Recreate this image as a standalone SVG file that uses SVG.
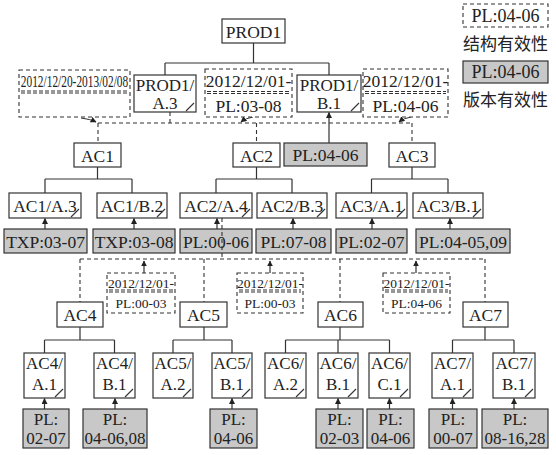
<svg xmlns="http://www.w3.org/2000/svg" width="556" height="455" viewBox="0 0 556 455" font-family="'Liberation Serif','Times New Roman',serif">
<defs>
<style>
.box{fill:#fff;stroke:#333;stroke-width:1.2}
.g{fill:#c8c8c8;stroke:#333;stroke-width:1.2}
.d{fill:#fff;stroke:#333;stroke-width:1.1;stroke-dasharray:4 3}
.dl{fill:none;stroke:#333;stroke-width:1.1;stroke-dasharray:4 3}
.ln{fill:none;stroke:#333;stroke-width:1.2}
.ar{fill:none;stroke:#333;stroke-width:1.2;marker-end:url(#ah)}
.ca{fill:none;stroke:#333;stroke-width:1;marker-end:url(#ah)}
.dv{fill:none;stroke:#333;stroke-width:1.1;stroke-dasharray:4 2}
.cm{fill:none;stroke:#333;stroke-width:1.1}
text{font-family:"Liberation Serif","Times New Roman",serif;font-size:17.5px;fill:#222;text-anchor:middle;dominant-baseline:central}
.t2{font-size:17px}
.s{font-size:13.5px}
.lg{font-size:18px}
.cn{font-family:"Noto Sans CJK SC",sans-serif;font-size:17px}
</style>
<marker id="ah" viewBox="0 0 10 10" refX="9" refY="5" markerWidth="6" markerHeight="6" markerUnits="userSpaceOnUse" orient="auto"><path d="M0,0 L10,5 L0,10 z" fill="#222"/></marker>
</defs>
<rect width="556" height="455" fill="#fff"/>

<g id="connectors">
<path class="ln" d="M253.5 43V63M165 63H329M165 63V75M329 63V75"/>
<path class="dl" d="M170 112V123M98 123H412M98 123V143M256.5 123V143M412 123V143"/>
<path class="ca" d="M81 118Q90 119 96 122"/>
<path class="ca" d="M253 117Q246 118 241 122"/>
<path class="ca" d="M411 117Q404 118 399 122"/>
<path class="ar" d="M329 143V112.5"/>
<path class="ln" d="M97.5 167V179M45 179H132M45 179V193M132 179V193"/>
<path class="ln" d="M256.5 167V179M216 179H292M216 179V193M292 179V193"/>
<path class="ln" d="M412 167V179M371.5 179H448M371.5 179V193M448 179V193"/>
<path class="ar" d="M45 229V218.5"/>
<path class="ar" d="M134 229V218.5"/>
<path class="ar" d="M217 229V218.5"/>
<path class="ar" d="M293 229V218.5"/>
<path class="ar" d="M372 229V218.5"/>
<path class="ar" d="M450 229V218.5"/>
<path class="dl" d="M80 259H484M80 259V302M204 259V302M340 259V302M485 259V302"/>
<path class="ar" d="M144 273V261"/>
<path class="ar" d="M270 273V261"/>
<path class="ar" d="M416 273V261"/>
<path class="ln" d="M80 327V340M44.5 340H114.5M44.5 340V353M114.5 340V353"/>
<path class="ln" d="M204 327V340M173 340H232M173 340V353M232 340V353"/>
<path class="ln" d="M340 327V340M285.5 340H389.5M285.5 340V353M338 340V353M389.5 340V353"/>
<path class="ln" d="M485 327V340M452.5 340H514M452.5 340V353M514 340V353"/>
<path class="ar" d="M44.5 409V398.5"/>
<path class="ar" d="M115 409V398.5"/>
<path class="ar" d="M232 409V398.5"/>
<path class="ar" d="M338 409V398.5"/>
<path class="ar" d="M389.5 409V398.5"/>
<path class="ar" d="M452.5 409V398.5"/>
<path class="ar" d="M514 409V398.5"/>
</g>

<g id="legend">
<rect class="d" x="463" y="4" width="85" height="23"/>
<text class="lg" x="505.5" y="16">PL:04-06</text>
<text class="cn" x="505.5" y="42">结构有效性</text>
<rect class="g" x="463" y="61" width="85" height="22"/>
<text class="lg" x="505.5" y="72">PL:04-06</text>
<text class="cn" x="505.5" y="98">版本有效性</text>
</g>

<g id="PROD1"><rect class="box" x="222" y="19" width="63" height="24"/><text x="253.5" y="31.5">PROD1</text></g>
<g id="PROD1-A3"><rect class="box" x="134" y="75" width="62" height="37"/><text class="t2" x="165" y="85">PROD1/</text><text class="t2" x="165" y="103">A.3</text><path class="cm" d="M186 111L194 103"/></g>
<g id="PROD1-B1"><rect class="box" x="297" y="75" width="64" height="37"/><text class="t2" x="329" y="85">PROD1/</text><text class="t2" x="329" y="103">B.1</text><path class="cm" d="M351 111L359 103"/></g>

<g id="sv-top1"><rect class="d" x="19" y="70" width="111" height="47"/><text transform="translate(74.5 81) scale(0.65 1)" x="0" y="0" font-size="17">2012/12/20-2013/02/08</text><path class="dv" d="M21 91H128M21 93H128"/></g>
<g id="sv-top2"><rect class="d" x="205" y="69" width="87" height="48"/><text x="248.5" y="81" font-size="17">2012/12/01-</text><path class="dv" d="M207 91.5H290M207 93.5H290"/><text x="248.5" y="105.5">PL:03-08</text></g>
<g id="sv-top3"><rect class="d" x="363" y="69" width="85" height="48"/><text x="405.5" y="81" font-size="17">2012/12/01-</text><path class="dv" d="M365 91.5H446M365 93.5H446"/><text x="405.5" y="105.5">PL:04-06</text></g>

<g id="AC1"><rect class="box" x="74" y="143" width="47" height="24"/><text x="97.5" y="155.5">AC1</text></g>
<g id="AC2"><rect class="box" x="233" y="143" width="47" height="24"/><text x="256.5" y="155.5">AC2</text></g>
<g id="vv-B1"><rect class="g" x="284" y="143" width="83" height="23"/><text x="325.5" y="155">PL:04-06</text></g>
<g id="AC3"><rect class="box" x="389" y="143" width="46" height="24"/><text x="412" y="155.5">AC3</text></g>

<g id="AC1-A3"><rect class="box" x="9" y="193" width="72" height="25"/><text x="45" y="205.5">AC1/A.3</text><path class="cm" d="M71 217L79 209"/></g>
<g id="AC1-B2"><rect class="box" x="97" y="193" width="70" height="25"/><text x="132" y="205.5">AC1/B.2</text><path class="cm" d="M157 217L165 209"/></g>
<g id="AC2-A4"><rect class="box" x="180" y="193" width="72" height="25"/><text x="216" y="205.5">AC2/A.4</text><path class="cm" d="M242 217L250 209"/></g>
<g id="AC2-B3"><rect class="box" x="257" y="193" width="70" height="25"/><text x="292" y="205.5">AC2/B.3</text><path class="cm" d="M317 217L325 209"/></g>
<g id="AC3-A1"><rect class="box" x="336" y="193" width="71" height="25"/><text x="371.5" y="205.5">AC3/A.1</text><path class="cm" d="M397 217L405 209"/></g>
<g id="AC3-B1"><rect class="box" x="413" y="193" width="70" height="25"/><text x="448" y="205.5">AC3/B.1</text><path class="cm" d="M473 217L481 209"/></g>

<g id="vv-AC1-A3"><rect class="g" x="4" y="229" width="83" height="24"/><text x="45.5" y="241.5">TXP:03-07</text></g>
<g id="vv-AC1-B2"><rect class="g" x="93" y="229" width="82" height="24"/><text x="134" y="241.5">TXP:03-08</text></g>
<g id="vv-AC2-A4"><rect class="g" x="180" y="229" width="72" height="24"/><text x="216" y="241.5">PL:00-06</text></g>
<g id="vv-AC2-B3"><rect class="g" x="256" y="229" width="75" height="24"/><text x="293.5" y="241.5">PL:07-08</text></g>
<g id="vv-AC3-A1"><rect class="g" x="336" y="229" width="71" height="24"/><text x="371.5" y="241.5">PL:02-07</text></g>
<g id="vv-AC3-B1"><rect class="g" x="416" y="229" width="94" height="24"/><text x="463" y="241.5">PL:04-05,09</text></g>

<g id="connector-A4"><path class="dl" d="M222 218V259"/></g>

<g id="sv-mid1"><rect class="d" x="107" y="273" width="68" height="40"/><text class="s" x="141" y="283">2012/12/01-</text><path class="dv" d="M109 290H173M109 292H173"/><text class="s" x="141" y="303">PL:00-03</text></g>
<g id="sv-mid2"><rect class="d" x="237" y="273" width="66" height="40"/><text class="s" x="270" y="283">2012/12/01-</text><path class="dv" d="M239 290H301M239 292H301"/><text class="s" x="270" y="303">PL:00-03</text></g>
<g id="sv-mid3"><rect class="d" x="383" y="273" width="67" height="40"/><text class="s" x="416.5" y="283">2012/12/01-</text><path class="dv" d="M385 290H448M385 292H448"/><text class="s" x="416.5" y="303">PL:04-06</text></g>

<g id="AC4"><rect class="box" x="57" y="302" width="46" height="25"/><text x="80" y="314.5">AC4</text></g>
<g id="AC5"><rect class="box" x="180" y="302" width="47" height="25"/><text x="203.5" y="314.5">AC5</text></g>
<g id="AC6"><rect class="box" x="318" y="302" width="45" height="25"/><text x="340.5" y="314.5">AC6</text></g>
<g id="AC7"><rect class="box" x="463" y="302" width="45" height="25"/><text x="485.5" y="314.5">AC7</text></g>

<g id="AC4-A1"><rect class="box" x="24" y="353" width="41" height="45"/><text class="t2" x="44.5" y="363.5">AC4/</text><text class="t2" x="44.5" y="384">A.1</text><path class="cm" d="M55 397L63 389"/></g>
<g id="AC4-B1"><rect class="box" x="94" y="353" width="41" height="45"/><text class="t2" x="114.5" y="363.5">AC4/</text><text class="t2" x="114.5" y="384">B.1</text><path class="cm" d="M125 397L133 389"/></g>
<g id="AC5-A2"><rect class="box" x="153" y="353" width="40" height="45"/><text class="t2" x="173" y="363.5">AC5/</text><text class="t2" x="173" y="384">A.2</text><path class="cm" d="M183 397L191 389"/></g>
<g id="AC5-B1"><rect class="box" x="212" y="353" width="40" height="45"/><text class="t2" x="232" y="363.5">AC5/</text><text class="t2" x="232" y="384">B.1</text><path class="cm" d="M242 397L250 389"/></g>
<g id="AC6-A2"><rect class="box" x="265" y="353" width="41" height="45"/><text class="t2" x="285.5" y="363.5">AC6/</text><text class="t2" x="285.5" y="384">A.2</text><path class="cm" d="M296 397L304 389"/></g>
<g id="AC6-B1"><rect class="box" x="318" y="353" width="40" height="45"/><text class="t2" x="338" y="363.5">AC6/</text><text class="t2" x="338" y="384">B.1</text><path class="cm" d="M348 397L356 389"/></g>
<g id="AC6-C1"><rect class="box" x="369" y="353" width="41" height="45"/><text class="t2" x="389.5" y="363.5">AC6/</text><text class="t2" x="389.5" y="384">C.1</text><path class="cm" d="M400 397L408 389"/></g>
<g id="AC7-A1"><rect class="box" x="432" y="353" width="41" height="45"/><text class="t2" x="452.5" y="363.5">AC7/</text><text class="t2" x="452.5" y="384">A.1</text><path class="cm" d="M463 397L471 389"/></g>
<g id="AC7-B1"><rect class="box" x="493" y="353" width="42" height="45"/><text class="t2" x="514" y="363.5">AC7/</text><text class="t2" x="514" y="384">B.1</text><path class="cm" d="M525 397L533 389"/></g>

<g id="vv-AC4-A1"><rect class="g" x="23" y="409" width="46" height="39"/><text class="t2" x="46" y="419.5">PL:</text><text class="t2" x="46" y="438">02-07</text></g>
<g id="vv-AC4-B1"><rect class="g" x="83" y="409" width="64" height="39"/><text class="t2" x="115" y="419.5">PL:</text><text class="t2" x="115" y="438">04-06,08</text></g>
<g id="vv-AC5-B1"><rect class="g" x="210" y="409" width="47" height="39"/><text class="t2" x="233.5" y="419.5">PL:</text><text class="t2" x="233.5" y="438">04-06</text></g>
<g id="vv-AC6-B1"><rect class="g" x="316" y="409" width="47" height="39"/><text class="t2" x="339.5" y="419.5">PL:</text><text class="t2" x="339.5" y="438">02-03</text></g>
<g id="vv-AC6-C1"><rect class="g" x="367" y="409" width="47" height="39"/><text class="t2" x="390.5" y="419.5">PL:</text><text class="t2" x="390.5" y="438">04-06</text></g>
<g id="vv-AC7-A1"><rect class="g" x="429" y="409" width="48" height="39"/><text class="t2" x="453" y="419.5">PL:</text><text class="t2" x="453" y="438">00-07</text></g>
<g id="vv-AC7-B1"><rect class="g" x="482" y="409" width="66" height="39"/><text class="t2" x="515" y="419.5">PL:</text><text class="t2" x="515" y="438">08-16,28</text></g>
</svg>
